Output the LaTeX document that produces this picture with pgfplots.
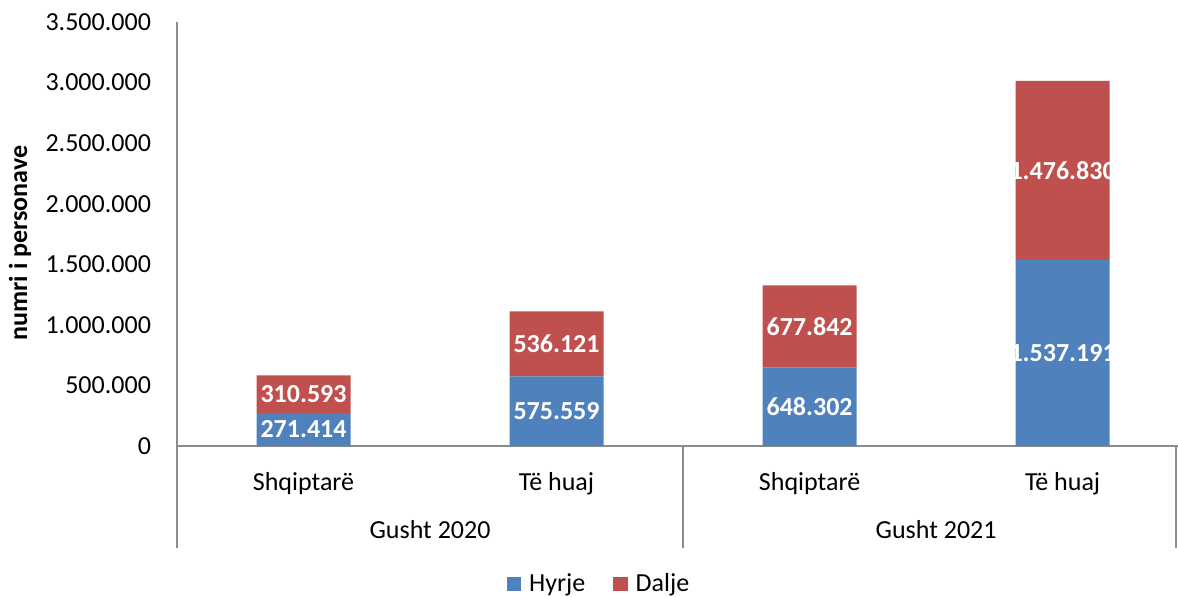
\documentclass[border=0pt]{standalone}
\usepackage{fontspec}
\setmainfont{Carlito}
\usepackage{pgfplots}
\pgfplotsset{compat=1.18}
\usepackage{pgfplotstable}
\definecolor{hyrje}{HTML}{4F81BD}
\definecolor{dalje}{HTML}{C0504D}
\definecolor{axgray}{HTML}{8C8C8C}
\pgfplotsset{/pgf/number format/.cd, 1000 sep={.}, assume math mode=true}

\pgfplotstableread{
x hyrje dalje
0 271414 310593
1 575559 536121
2 648302 677842
3 1537191 1476830
}\datatable

\begin{document}
\begin{tikzpicture}
\useasboundingbox (0,0) rectangle (589pt,298pt);
\pgfplotsset{common/.style={
  width=500.5pt, height=212pt, scale only axis,
  xmin=-0.5, xmax=3.456, ymin=0, ymax=3500000,
  at={(88.5pt,75pt)}, anchor=south west}}
\begin{axis}[common,
  ybar stacked, bar width=47pt,
  axis x line*=bottom, axis y line*=left,
  axis line style={draw=axgray, line width=0.9pt},
  ytick={0,500000,1000000,1500000,2000000,2500000,3000000,3500000},
  scaled y ticks=false,
  yticklabel style={/pgf/number format/fixed, /pgf/number format/precision=0, font=\fontsize{13}{15}\selectfont, anchor=east, xshift=-9.5pt},
  xtick={0,1,2,3},
  xticklabels={Shqiptarë, Të huaj, Shqiptarë, Të huaj},
  xticklabel style={font=\fontsize{13}{15}\selectfont, anchor=center, yshift=-19pt},
  major tick length=0pt,
  clip=false,
  legend style={at={(axis description cs:0.4226,-0.325)}, anchor=center, draw=none,
    legend columns=2, font=\fontsize{13}{15}\selectfont,
    /tikz/every odd column/.append style={column sep=2pt},
    /tikz/every even column/.append style={column sep=12pt}},
  legend image code/.code={\fill[#1] (0pt,-3.6pt) rectangle (7.2pt,3.6pt);},
]
\addplot[fill=hyrje, draw=none] table[x=x, y=hyrje]{\datatable};
\addplot[fill=dalje, draw=none] table[x=x, y=dalje]{\datatable};
\legend{Hyrje, Dalje}
\draw[axgray, line width=0.9pt] (axis cs:-0.5,0) -- ++(0pt,-51pt);
\draw[axgray, line width=0.9pt] (axis cs:1.5,0) -- ++(0pt,-51pt);
\draw[axgray, line width=0.9pt] (axis cs:3.449,0) -- ++(0pt,-51pt);
\node[font=\fontsize{13}{15}\selectfont] at ([yshift=-42pt]axis cs:0.5,0) {Gusht 2020};
\node[font=\fontsize{13}{15}\selectfont] at ([yshift=-42pt]axis cs:2.5,0) {Gusht 2021};
\end{axis}
\begin{axis}[common, hide axis, clip=false]
\addplot[draw=none, mark=none, point meta=explicit,
  nodes near coords={\pgfmathprintnumber[fixed,precision=0,1000 sep={.}]{\pgfplotspointmeta}},
  every node near coord/.append style={anchor=center, text=white, font=\fontsize{13}{15}\selectfont\bfseries}]
  table[x=x, y expr=\thisrow{hyrje}/2, meta=hyrje]{\datatable};
\addplot[draw=none, mark=none, point meta=explicit,
  nodes near coords={\pgfmathprintnumber[fixed,precision=0,1000 sep={.}]{\pgfplotspointmeta}},
  every node near coord/.append style={anchor=center, text=white, font=\fontsize{13}{15}\selectfont\bfseries}]
  table[x=x, y expr=\thisrow{hyrje}+\thisrow{dalje}/2, meta=dalje]{\datatable};
\end{axis}
\node[rotate=90, font=\fontsize{13}{15}\selectfont\bfseries] at (10pt,176.5pt) {numri i personave};
\end{tikzpicture}
\end{document}
